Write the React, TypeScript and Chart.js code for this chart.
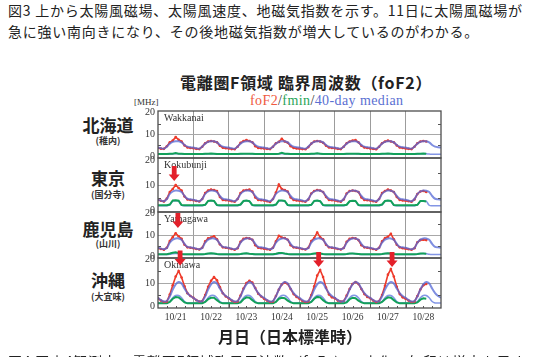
import { useEffect, useRef } from "react";
import { Chart, registerables } from "chart.js";

Chart.register(...registerables);

// Day labels along the time axis (JST); each day spans 24 hours.
const dayLabels = ["10/21", "10/22", "10/23", "10/24", "10/25", "10/26", "10/27", "10/28"];
// Sampling times within each day (hours, JST).
const sampleHours = [0, 2, 4, 6, 8, 10, 12, 14, 16, 18, 20, 22];
// Y-axis tick values (MHz); labels at 0/10/20, small marks at 5/15.
const yTickValues = [0, 5, 10, 15, 20];

const stationNames = ["Wakkanai", "Kokubunji", "Yamagawa", "Okinawa"];

// ---- Wakkanai (稚内) ----
const wakkanaiFoF2 = [
  [3.8, 3.5, 3.4, 4.6, 6.4, 7.2, 8.8, 7.6, 6.8, 5.0, 4.0, 3.8],
  [3.7, 3.4, 3.3, 4.4, 6.0, 6.8, 7.0, 6.8, 6.4, 4.8, 3.9, 3.7],
  [3.6, 3.3, 3.2, 4.4, 6.2, 7.0, 7.4, 7.0, 6.4, 4.6, 3.8, 3.7],
  [3.6, 3.4, 3.3, 4.4, 6.0, 6.6, 8.0, 6.8, 6.2, 4.6, 3.8, 3.6],
  [3.5, 3.3, 3.2, 4.2, 5.8, 6.8, 7.0, 6.8, 6.2, 4.8, 4.0, 3.8],
  [3.7, 3.4, 3.3, 4.4, 6.0, 6.8, 7.2, 7.4, 6.4, 4.8, 4.0, 3.8],
  [3.6, 3.4, 3.2, 4.4, 6.0, 6.8, 7.2, 6.8, 6.4, 5.0, 4.0, 3.8],
  [3.6, 3.4, 3.3, 4.4, 6.0, 6.8, 7.0, 6.8],
];
const wakkanaiFmin = [
  [1.0, 1.0, 1.0, 1.0, 1.1, 1.2, 1.5, 1.2, 1.1, 1.0, 1.0, 1.0],
  [1.0, 1.0, 1.0, 1.0, 1.1, 1.2, 1.3, 1.2, 1.0, 1.0, 1.0, 1.0],
  [1.0, 1.0, 1.0, 1.0, 1.1, 1.2, 1.2, 1.2, 1.1, 1.0, 1.0, 1.0],
  [1.0, 1.0, 1.0, 1.0, 1.0, 1.2, 1.6, 1.2, 1.1, 1.0, 1.0, 1.0],
  [1.0, 1.0, 1.0, 1.0, 1.1, 1.2, 1.4, 1.2, 1.0, 1.0, 1.0, 1.0],
  [1.0, 1.0, 1.0, 1.0, 1.1, 1.2, 1.2, 1.2, 1.1, 1.0, 1.0, 1.0],
  [1.0, 1.0, 1.0, 1.0, 1.1, 1.2, 1.3, 1.2, 1.0, 1.0, 1.0, 1.0],
  [1.0, 1.0, 1.0, 1.0, 1.1, 1.2, 1.3, 1.2],
];
const wakkanaiMedian = [4.0, 3.7, 3.5, 4.4, 5.8, 6.6, 6.9, 6.9, 6.4, 5.2, 4.4, 4.1];
const wakkanaiFminMedian = [0.9, 0.9, 0.9, 0.9, 1.0, 1.1, 1.2, 1.1, 1.0, 0.9, 0.9, 0.9];

// ---- Kokubunji (国分寺) ----
const kokubunjiFoF2 = [
  [4.0, 3.7, 3.4, 4.6, 7.2, 8.4, 10.0, 8.8, 7.8, 5.4, 4.2, 4.0],
  [3.9, 3.6, 3.4, 4.4, 6.8, 7.8, 8.2, 8.0, 7.6, 5.2, 4.0, 3.9],
  [3.8, 3.5, 3.3, 4.4, 6.8, 7.8, 8.0, 8.2, 7.4, 5.0, 4.0, 3.9],
  [3.8, 3.5, 3.2, 4.4, 7.0, 10.2, 8.4, 8.0, 7.4, 5.0, 4.0, 3.8],
  [3.7, 3.5, 3.3, 4.2, 6.6, 7.6, 8.0, 7.8, 7.2, 5.2, 4.0, 3.9],
  [3.8, 3.5, 3.3, 4.2, 6.6, 7.6, 7.8, 7.6, 7.2, 5.0, 4.0, 3.9],
  [3.8, 3.5, 3.3, 4.4, 6.8, 7.6, 8.2, 7.8, 7.2, 5.2, 4.0, 3.8],
  [3.7, 3.5, 3.3, 4.2, 6.4, 7.4, 7.6, 7.2],
];
const kokubunjiFmin = [
  [1.9, 1.9, 1.9, 1.9, 2.2, 3.8, 3.9, 3.7, 2.0, 1.9, 1.9, 1.9],
  [1.9, 1.9, 1.9, 1.9, 2.1, 3.6, 3.8, 3.6, 2.0, 1.9, 1.9, 1.9],
  [1.9, 1.9, 1.9, 1.9, 2.2, 3.6, 3.8, 3.5, 2.0, 1.9, 1.9, 1.9],
  [1.9, 1.9, 1.9, 1.9, 2.2, 3.8, 3.8, 3.6, 2.0, 1.9, 1.9, 1.9],
  [1.9, 1.9, 1.9, 1.9, 2.1, 3.6, 3.8, 3.5, 2.0, 1.9, 1.9, 1.9],
  [1.9, 1.9, 1.9, 1.9, 2.1, 3.5, 3.7, 3.6, 2.0, 1.9, 1.9, 1.9],
  [1.9, 1.9, 1.9, 1.9, 2.2, 3.6, 3.8, 3.6, 2.0, 1.9, 1.9, 1.9],
  [1.9, 1.9, 1.9, 1.9, 2.1, 3.6, 3.6, 3.4],
];
const kokubunjiMedian = [4.1, 3.8, 3.5, 4.4, 6.4, 7.4, 7.8, 7.7, 7.2, 5.6, 4.5, 4.3];
const kokubunjiFminMedian = [1.7, 1.7, 1.7, 1.7, 2.0, 3.5, 3.7, 3.5, 1.9, 1.7, 1.7, 1.7];

// ---- Yamagawa (山川) ----
const yamagawaFoF2 = [
  [3.8, 3.4, 3.1, 4.0, 7.2, 9.0, 10.8, 9.4, 8.2, 5.4, 4.2, 4.0],
  [3.8, 3.4, 3.2, 4.0, 7.0, 8.4, 8.8, 9.4, 8.0, 5.6, 4.2, 4.0],
  [3.8, 3.4, 3.1, 3.8, 6.8, 8.2, 8.6, 8.4, 7.8, 5.2, 4.0, 3.8],
  [3.6, 3.3, 3.1, 4.0, 7.0, 9.6, 8.8, 8.6, 7.8, 5.2, 4.2, 4.0],
  [3.8, 3.4, 3.2, 4.0, 7.2, 8.6, 11.2, 9.0, 8.0, 5.4, 4.2, 4.0],
  [3.8, 3.4, 3.2, 3.9, 6.8, 8.2, 8.6, 8.4, 7.6, 5.2, 4.2, 4.0],
  [3.8, 3.4, 3.1, 4.0, 7.0, 8.6, 9.2, 10.6, 8.0, 5.4, 4.2, 3.8],
  [3.6, 3.3, 3.1, 3.8, 6.6, 7.6, 7.8, 7.6],
];
const yamagawaFmin = [
  [1.0, 1.0, 1.0, 1.0, 1.3, 1.7, 1.9, 1.5, 1.1, 1.0, 1.0, 1.0],
  [1.0, 1.0, 1.0, 1.0, 1.1, 1.3, 1.4, 1.3, 1.1, 1.0, 1.0, 1.0],
  [1.0, 1.0, 1.0, 1.0, 1.1, 1.3, 1.4, 1.2, 1.1, 1.0, 1.0, 1.0],
  [1.0, 1.0, 1.0, 1.0, 1.2, 1.5, 1.6, 1.3, 1.1, 1.0, 1.0, 1.0],
  [1.0, 1.0, 1.0, 1.0, 1.1, 1.3, 1.4, 1.3, 1.1, 1.0, 1.0, 1.0],
  [1.0, 1.0, 1.0, 1.0, 1.1, 1.3, 1.3, 1.2, 1.1, 1.0, 1.0, 1.0],
  [1.0, 1.0, 1.0, 1.0, 1.1, 1.3, 1.4, 1.3, 1.1, 1.0, 1.0, 1.0],
  [1.0, 1.0, 1.0, 1.0, 1.1, 1.3, 1.3, 1.2],
];
const yamagawaMedian = [4.0, 3.6, 3.3, 3.9, 6.4, 7.8, 8.4, 8.4, 7.8, 5.8, 4.4, 4.2];
const yamagawaFminMedian = [0.9, 0.9, 0.9, 0.9, 1.0, 1.2, 1.3, 1.2, 1.0, 0.9, 0.9, 0.9];

// ---- Okinawa (大宜味) ----
const okinawaFoF2 = [
  [3.4, 2.4, 1.8, 2.0, 5.0, 9.0, 12.8, 15.2, 12.4, 8.6, 5.6, 4.4],
  [3.6, 2.6, 2.0, 2.2, 4.8, 8.4, 11.0, 12.6, 11.2, 8.2, 5.6, 4.2],
  [3.4, 2.4, 1.8, 2.0, 4.6, 7.6, 10.0, 11.0, 10.2, 7.8, 5.4, 4.2],
  [3.2, 2.4, 1.8, 2.0, 4.4, 7.2, 9.4, 10.2, 9.6, 7.4, 5.2, 4.0],
  [3.2, 2.2, 1.8, 2.0, 4.8, 8.6, 13.2, 15.6, 12.6, 8.0, 5.0, 3.8],
  [3.4, 2.4, 2.0, 2.2, 4.6, 7.4, 9.6, 10.4, 9.6, 7.4, 5.2, 4.0],
  [3.4, 2.4, 1.8, 2.2, 4.8, 8.8, 13.6, 16.0, 12.8, 8.4, 5.2, 3.8],
  [3.2, 2.4, 1.8, 2.0, 4.4, 7.2, 9.0, 9.6],
];
const okinawaFmin = [
  [1.2, 1.2, 1.2, 1.2, 1.8, 3.2, 3.9, 3.8, 2.8, 1.6, 1.2, 1.2],
  [1.2, 1.2, 1.2, 1.2, 1.8, 3.0, 3.6, 3.6, 2.6, 1.6, 1.2, 1.2],
  [1.2, 1.2, 1.2, 1.2, 1.6, 3.0, 3.8, 3.6, 2.6, 1.6, 1.2, 1.2],
  [1.2, 1.2, 1.2, 1.2, 1.8, 3.2, 3.6, 3.4, 2.4, 1.6, 1.2, 1.2],
  [1.2, 1.2, 1.2, 1.2, 1.8, 3.2, 4.0, 3.8, 2.6, 1.6, 1.2, 1.2],
  [1.2, 1.2, 1.2, 1.2, 1.6, 3.0, 3.6, 3.4, 2.4, 1.6, 1.2, 1.2],
  [1.2, 1.2, 1.2, 1.2, 1.8, 3.0, 3.8, 3.6, 2.6, 1.6, 1.2, 1.2],
  [1.2, 1.2, 1.2, 1.2, 1.6, 2.8, 3.4, 3.2],
];
const okinawaMedian = [3.6, 2.6, 2.0, 2.2, 4.2, 7.2, 9.4, 10.4, 9.8, 7.6, 5.6, 4.4];
const okinawaFminMedian = [1.4, 1.4, 1.4, 1.4, 2.0, 3.6, 4.6, 4.6, 3.6, 2.0, 1.4, 1.4];

// Red arrows marking sudden foF2 enhancements: panel index, hour from 10/21 00:00, MHz at the tip.
const arrowPanels = [1, 2, 3, 3, 3];
const arrowHours = [11, 13.5, 15, 109, 158.8];
const arrowTips = [11.6, 13.3, 17.6, 16.9, 16.9];

const RED = "#ee3a2a";
const GREEN = "#12a05a";
const BLUE = "rgba(84,104,214,0.75)";
const BLUE_LIGHT = "rgba(100,124,222,0.8)";
const SERIF = "'Liberation Serif', 'Times New Roman', serif";
const CJK = "'Noto Sans CJK JP', sans-serif";

const panelIds = ["yWak", "yKok", "yYam", "yOki"];
const panelHeights = [47, 54, 46, 50];

type Pt = { x: number; y: number };

function dailySeries(days: number[][]): Pt[] {
  const out: Pt[] = [];
  days.forEach((vals, d) => {
    vals.forEach((v, i) => out.push({ x: d * 24 + sampleHours[i], y: v }));
  });
  return out;
}

function medianSeries(profile: number[]): Pt[] {
  const out: Pt[] = [];
  dayLabels.forEach((_, d) => {
    profile.forEach((v, i) => out.push({ x: d * 24 + sampleHours[i], y: v }));
  });
  out.push({ x: dayLabels.length * 24, y: profile[0] });
  return out;
}

const stationData = [
  { foF2: wakkanaiFoF2, fmin: wakkanaiFmin, median: wakkanaiMedian, fminMedian: wakkanaiFminMedian },
  { foF2: kokubunjiFoF2, fmin: kokubunjiFmin, median: kokubunjiMedian, fminMedian: kokubunjiFminMedian },
  { foF2: yamagawaFoF2, fmin: yamagawaFmin, median: yamagawaMedian, fminMedian: yamagawaFminMedian },
  { foF2: okinawaFoF2, fmin: okinawaFmin, median: okinawaMedian, fminMedian: okinawaFminMedian },
];

const panelDecor = {
  id: "panelDecor",
  afterDatasetsDraw(chart: any) {
    const { ctx, chartArea } = chart;
    const left = chartArea.left;
    const right = chartArea.right;
    ctx.save();
    panelIds.forEach((id, p) => {
      const s = chart.scales[id];
      ctx.strokeStyle = "#4d4d4d";
      ctx.lineWidth = 1.3;
      ctx.strokeRect(left, s.top, right - left, s.bottom - s.top);
      ctx.lineWidth = 1;
      ctx.strokeStyle = "#555";
      [5, 15].forEach((v) => {
        const y = Math.round(s.getPixelForValue(v)) + 0.5;
        ctx.beginPath();
        ctx.moveTo(left, y);
        ctx.lineTo(left + 3, y);
        ctx.moveTo(right - 3, y);
        ctx.lineTo(right, y);
        ctx.stroke();
      });
      ctx.fillStyle = "#333";
      ctx.font = `10px ${SERIF}`;
      ctx.textBaseline = "top";
      ctx.textAlign = "left";
      ctx.fillText(stationNames[p], left + 6, s.top + 2);
    });
    // small hour marks along the bottom edge
    const xs = chart.scales.x;
    const bottom = chart.scales[panelIds[3]].bottom;
    ctx.strokeStyle = "#555";
    for (let h = 6; h < 192; h += 6) {
      const x = Math.round(xs.getPixelForValue(h)) + 0.5;
      ctx.beginPath();
      ctx.moveTo(x, bottom);
      ctx.lineTo(x, bottom - (h % 24 === 0 ? 4 : 2));
      ctx.stroke();
    }
    // arrows
    ctx.fillStyle = "#e3202a";
    arrowPanels.forEach((p, i) => {
      const s = chart.scales[panelIds[p]];
      const x = xs.getPixelForValue(arrowHours[i]);
      const tip = s.getPixelForValue(arrowTips[i]);
      ctx.beginPath();
      ctx.moveTo(x, tip);
      ctx.lineTo(x - 5.5, tip - 6.5);
      ctx.lineTo(x - 2.4, tip - 6.5);
      ctx.lineTo(x - 2.4, tip - 15);
      ctx.lineTo(x + 2.4, tip - 15);
      ctx.lineTo(x + 2.4, tip - 6.5);
      ctx.lineTo(x + 5.5, tip - 6.5);
      ctx.closePath();
      ctx.fill();
    });
    ctx.restore();
  },
};

function makeYScale(p: number) {
  return {
    type: "linear",
    position: "left",
    stack: "panels",
    stackWeight: panelHeights[p],
    weight: 10 - p,
    min: -0.8,
    max: 20.8,
    afterBuildTicks: (s: any) => {
      s.ticks = yTickValues.map((v) => ({ value: v }));
    },
    afterFit: (s: any) => {
      s.width = 24;
    },
    ticks: {
      autoSkip: false,
      padding: 3,
      color: "#333",
      font: { family: SERIF, size: 10 },
      callback: (v: number) => (v % 10 === 0 ? String(v) : ""),
    },
    grid: {
      drawTicks: false,
      color: (c: any) => (c.tick && c.tick.value === 10 ? "#a8a8a8" : "rgba(0,0,0,0)"),
    },
    border: { display: false },
  };
}

export default function App() {
  const ref = useRef<HTMLCanvasElement | null>(null);

  useEffect(() => {
    if (!ref.current) return;
    const datasets: any[] = [];
    stationData.forEach((st, p) => {
      const yAxisID = panelIds[p];
      // lower `order` is drawn on top: median over foF2, both over fmin
      datasets.push({
        data: medianSeries(st.median),
        yAxisID,
        order: 1,
        borderColor: BLUE,
        borderWidth: 2,
        pointRadius: 0,
        tension: 0.3,
      });
      datasets.push({
        data: dailySeries(st.foF2),
        yAxisID,
        order: 2,
        borderColor: RED,
        backgroundColor: RED,
        borderWidth: 1.6,
        pointRadius: 1.3,
        pointBorderWidth: 0,
      });
      datasets.push({
        data: dailySeries(st.fmin),
        yAxisID,
        order: 3,
        borderColor: GREEN,
        borderWidth: 2,
        pointRadius: 0,
      });
      datasets.push({
        data: medianSeries(st.fminMedian),
        yAxisID,
        order: 4,
        borderColor: BLUE_LIGHT,
        borderWidth: 1.5,
        pointRadius: 0,
        tension: 0.3,
      });
    });

    const scales: any = {
      x: {
        type: "linear",
        min: 0,
        max: dayLabels.length * 24,
        afterBuildTicks: (s: any) => {
          const vals: number[] = [];
          dayLabels.forEach((_, d) => vals.push(d * 24, d * 24 + 12));
          vals.push(dayLabels.length * 24);
          s.ticks = vals.map((v) => ({ value: v }));
        },
        afterFit: (s: any) => {
          s.height = 16;
        },
        ticks: {
          autoSkip: false,
          maxRotation: 0,
          padding: 4,
          color: "#333",
          font: { family: SERIF, size: 9.5 },
          callback: (v: number) => (v % 24 === 12 ? dayLabels[(v - 12) / 24] : ""),
        },
        grid: {
          drawTicks: false,
          color: (c: any) =>
            c.tick && c.tick.value % 24 === 0 && c.tick.value > 0 && c.tick.value < 192
              ? "#9c9c9c"
              : "rgba(0,0,0,0)",
        },
        border: { display: false },
      },
    };
    panelIds.forEach((id, p) => {
      scales[id] = makeYScale(p);
    });

    const chart = new Chart(ref.current, {
      type: "line",
      data: { datasets },
      options: {
        animation: false,
        responsive: false,
        layout: { padding: { left: 134, top: 111, right: 94, bottom: 33 } },
        plugins: { legend: { display: false }, tooltip: { enabled: false } },
        scales,
      } as any,
      plugins: [panelDecor],
    });
    return () => chart.destroy();
  }, []);

  const abs = (extra: any) => ({ position: "absolute" as const, whiteSpace: "nowrap" as const, ...extra });
  const stationBig = [
    { name: "北海道", sub: "(稚内)", y: 125, sy: 141 },
    { name: "東京", sub: "(国分寺)", y: 178, sy: 195 },
    { name: "鹿児島", sub: "(山川)", y: 229, sy: 244 },
    { name: "沖縄", sub: "(大宜味)", y: 280, sy: 297 },
  ];

  return (
    <div
      style={{
        position: "absolute",
        left: 0,
        top: 0,
        width: 535,
        height: 357,
        overflow: "hidden",
        background: "#fff",
      }}
    >
      <div style={abs({ left: 8, top: 0, fontFamily: CJK, fontSize: 14, lineHeight: "21px", letterSpacing: "0.75px", color: "#222" })}>
        図3 上から太陽風磁場、太陽風速度、地磁気指数を示す。11日に太陽風磁場が
        <br />
        急に強い南向きになり、その後地磁気指数が増大しているのがわかる。
      </div>
      <div style={abs({ left: 180, top: 72, fontFamily: CJK, fontSize: 16, fontWeight: 700, lineHeight: "20px", letterSpacing: "0.7px", color: "#222" })}>
        電離圏F領域 臨界周波数（foF2）
      </div>
      <div style={abs({ left: 250, top: 93, fontFamily: SERIF, fontSize: 14, lineHeight: "16px", letterSpacing: "0.4px" })}>
        <span style={{ color: "#ef5a40" }}>foF2</span>
        <span style={{ color: "#333" }}>/</span>
        <span style={{ color: "#2aa55a" }}>fmin</span>
        <span style={{ color: "#333" }}>/</span>
        <span style={{ color: "#5a6fd2" }}>40-day median</span>
      </div>
      <div style={abs({ left: 134, top: 96, fontFamily: SERIF, fontSize: 9, lineHeight: "12px", color: "#333" })}>[MHz]</div>
      {stationBig.map((s) => (
        <div key={s.name}>
          <div style={abs({ left: 68, width: 80, textAlign: "center", top: s.y - 11, fontFamily: CJK, fontSize: 17, fontWeight: 700, lineHeight: "22px", color: "#222" })}>
            {s.name}
          </div>
          <div style={abs({ left: 68, width: 80, textAlign: "center", top: s.sy - 6, fontFamily: CJK, fontSize: 9, fontWeight: 700, lineHeight: "12px", color: "#333" })}>
            {s.sub}
          </div>
        </div>
      ))}
      <canvas ref={ref} width={535} height={357} style={{ position: "absolute", left: 0, top: 0 }} />
      <div style={abs({ left: 0, width: 580, textAlign: "center", top: 325, fontFamily: CJK, fontSize: 16, fontWeight: 700, lineHeight: "22px", color: "#222" })}>
        月日（日本標準時）
      </div>
      <div style={abs({ left: 8, top: 351, fontFamily: CJK, fontSize: 14, lineHeight: "21px", letterSpacing: "0.75px", color: "#222" })}>
        図4 国内4観測点の電離圏F領域臨界周波数（foF2）の変化。矢印は増大を示す。
      </div>
    </div>
  );
}
